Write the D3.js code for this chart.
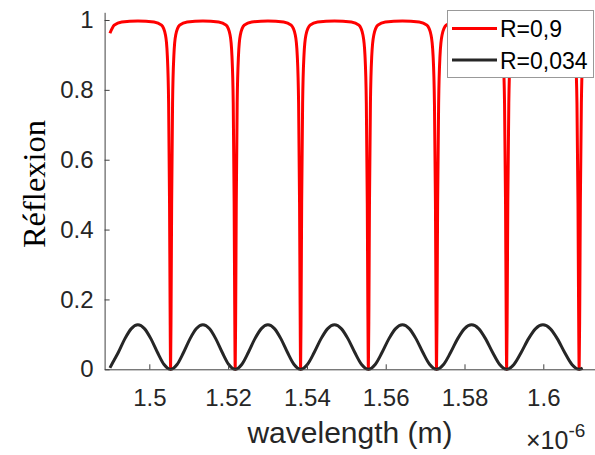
<!DOCTYPE html>
<html>
<head>
<meta charset="utf-8">
<script src="https://cdn.jsdelivr.net/npm/d3@7"></script>
<style>
html,body{margin:0;padding:0;background:#fff;}
svg{display:block;}
</style>
</head>
<body>
<svg id="chart" width="595" height="455"></svg>
<script>
// ---- data (wavelength in units of 1e-6 m) ----
const xTicks = [1.5, 1.52, 1.54, 1.56, 1.58, 1.6];
const xTickLabels = ["1.5", "1.52", "1.54", "1.56", "1.58", "1.6"];
const yTicks = [0, 0.2, 0.4, 0.6, 0.8, 1];
const yTickLabels = ["0", "0.2", "0.4", "0.6", "0.8", "1"];
const seriesNames = ["R=0,9", "R=0,034"];

const wavelengthBlack = [
  1.4900,
  1.49046, 1.49212, 1.49378, 1.49544, 1.4971, 1.49876, 1.50042, 1.50208, 1.50374, 1.5054,
  1.50704, 1.50868, 1.51032, 1.51196, 1.5136, 1.51524, 1.51688, 1.51852, 1.52016, 1.5218,
  1.52346, 1.52512, 1.52678, 1.52844, 1.5301, 1.53176, 1.53342, 1.53508, 1.53674, 1.5384,
  1.54012, 1.54184, 1.54356, 1.54528, 1.547, 1.54872, 1.55044, 1.55216, 1.55388, 1.5556,
  1.55733, 1.55906, 1.56079, 1.56252, 1.56425, 1.56598, 1.56771, 1.56944, 1.57117, 1.5729,
  1.57468, 1.57646, 1.57824, 1.58002, 1.5818, 1.58358, 1.58536, 1.58714, 1.58892, 1.5907,
  1.59254, 1.59438, 1.59622, 1.59806, 1.5999, 1.60174, 1.60358, 1.60542, 1.60726, 1.6091,
  1.6100
];
const reflectionBlack = [
  0.004,
  0.0137, 0.048, 0.0871, 0.1165, 0.1273, 0.1165, 0.0871, 0.048, 0.0137, 0,
  0.0137, 0.048, 0.0871, 0.1165, 0.1273, 0.1165, 0.0871, 0.048, 0.0137, 0,
  0.0137, 0.048, 0.0871, 0.1165, 0.1273, 0.1165, 0.0871, 0.048, 0.0137, 0,
  0.0137, 0.048, 0.0871, 0.1165, 0.1273, 0.1165, 0.0871, 0.048, 0.0137, 0,
  0.0137, 0.048, 0.0871, 0.1165, 0.1273, 0.1165, 0.0871, 0.048, 0.0137, 0,
  0.0137, 0.048, 0.0871, 0.1165, 0.1273, 0.1165, 0.0871, 0.048, 0.0137, 0,
  0.0137, 0.048, 0.0871, 0.1165, 0.1273, 0.1165, 0.0871, 0.048, 0.0137, 0,
  0.0035
];

const wavelengthRed = [
  1.4900, 1.4911, 1.4930, 1.4971,
  1.5012, 1.5031, 1.5041, 1.50457, 1.5049, 1.50513, 1.50527, 1.5054, 1.50553, 1.50567, 1.5059, 1.50623, 1.5067, 1.5077, 1.5096, 1.5136,
  1.5176, 1.5195, 1.5205, 1.52097, 1.5213, 1.52153, 1.52167, 1.5218, 1.52193, 1.52207, 1.5223, 1.52263, 1.5231, 1.5241, 1.526, 1.5301,
  1.5341, 1.536, 1.53705, 1.53755, 1.53789, 1.53813, 1.53827, 1.5384, 1.53853, 1.53867, 1.53891, 1.53925, 1.53975, 1.5408, 1.5427, 1.547,
  1.5513, 1.5532, 1.55422, 1.55474, 1.55508, 1.55532, 1.55546, 1.5556, 1.55574, 1.55588, 1.55612, 1.55646, 1.55698, 1.558, 1.5599, 1.56425,
  1.5685, 1.57045, 1.5715, 1.57202, 1.57237, 1.57262, 1.57276, 1.5729, 1.57304, 1.57318, 1.57343, 1.57378, 1.5743, 1.57535, 1.5773, 1.5818,
  1.5862, 1.5882, 1.58925, 1.5898, 1.59016, 1.59041, 1.59056, 1.5907, 1.59084, 1.59099, 1.59124, 1.5916, 1.59215, 1.5932, 1.5952, 1.5999,
  1.6045, 1.6065, 1.6076, 1.60817, 1.60854, 1.6088, 1.60895, 1.6091, 1.60925, 1.6094, 1.60966, 1.6100
];
const reflectionRed = [
  0.962, 0.985, 0.9945, 0.997,
  0.9945, 0.985, 0.957, 0.898, 0.761, 0.476, 0.185, 0, 0.185, 0.476, 0.761, 0.898, 0.957, 0.985, 0.9945, 0.997,
  0.9945, 0.985, 0.957, 0.898, 0.761, 0.476, 0.185, 0, 0.185, 0.476, 0.761, 0.898, 0.957, 0.985, 0.9945, 0.997,
  0.9945, 0.985, 0.957, 0.898, 0.761, 0.476, 0.185, 0, 0.185, 0.476, 0.761, 0.898, 0.957, 0.985, 0.9945, 0.997,
  0.9945, 0.985, 0.957, 0.898, 0.761, 0.476, 0.185, 0, 0.185, 0.476, 0.761, 0.898, 0.957, 0.985, 0.9945, 0.997,
  0.9945, 0.985, 0.957, 0.898, 0.761, 0.476, 0.185, 0, 0.185, 0.476, 0.761, 0.898, 0.957, 0.985, 0.9945, 0.997,
  0.9945, 0.985, 0.957, 0.898, 0.761, 0.476, 0.185, 0, 0.185, 0.476, 0.761, 0.898, 0.957, 0.985, 0.9945, 0.997,
  0.9945, 0.985, 0.957, 0.898, 0.761, 0.476, 0.185, 0, 0.185, 0.476, 0.761, 0.898
];

// ---- layout ----
const svg = d3.select("#chart");
const plot = {left: 104.6, right: 596.5, top: 12.3, bottom: 369.3};
const axisColor = "#404040";
const textColor = "#262626";
const sans = "'Liberation Sans', Arial, Helvetica, sans-serif";

const x = d3.scaleLinear().domain([1.48865, 1.6135]).range([plot.left, plot.right]);
const y = d3.scaleLinear().domain([0, 1.022]).range([plot.bottom, plot.top]);

const defs = svg.append("defs");
defs.append("clipPath").attr("id", "clip")
  .append("rect").attr("x", plot.left).attr("y", plot.top - 3)
  .attr("width", plot.right - plot.left).attr("height", plot.bottom - plot.top + 6);

// ---- curves ----
const line = d3.line().x(d => x(d[0])).y(d => y(d[1])).curve(d3.curveMonotoneX);
const redData = wavelengthRed.map((w, i) => [w, reflectionRed[i]]);
const blackData = wavelengthBlack.map((w, i) => [w, reflectionBlack[i]]);

const g = svg.append("g").attr("clip-path", "url(#clip)");
g.append("path").datum(redData).attr("d", line)
  .attr("fill", "none").attr("stroke", "#ff0000").attr("stroke-width", 3)
  .attr("stroke-linejoin", "round").attr("stroke-linecap", "butt");
g.append("path").datum(blackData).attr("d", line)
  .attr("fill", "none").attr("stroke", "#262626").attr("stroke-width", 3)
  .attr("stroke-linejoin", "round");

// ---- axes ----
const xAxis = d3.axisBottom(x).tickValues(xTicks)
  .tickFormat((d, i) => xTickLabels[i]).tickSizeInner(-5).tickSizeOuter(0).tickPadding(20);
const gx = svg.append("g").attr("transform", `translate(0,${plot.bottom})`).call(xAxis);
gx.select(".domain").attr("stroke", axisColor).attr("stroke-width", 1);
gx.selectAll(".tick line").attr("stroke", axisColor);
gx.selectAll(".tick text").attr("fill", textColor)
  .style("font-family", sans).style("font-size", "24px");

const yAxis = d3.axisLeft(y).tickValues(yTicks)
  .tickFormat((d, i) => yTickLabels[i]).tickSizeInner(-5).tickSizeOuter(0).tickPadding(11);
const gy = svg.append("g").attr("transform", `translate(${plot.left},0)`).call(yAxis);
gy.select(".domain").attr("stroke", axisColor).attr("stroke-width", 1);
gy.selectAll(".tick line").attr("stroke", axisColor);
gy.selectAll(".tick text").attr("fill", textColor)
  .style("font-family", sans).style("font-size", "24px");

// ---- labels ----
svg.append("text").attr("x", 350).attr("y", 443).attr("text-anchor", "middle")
  .attr("fill", textColor)
  .style("font-family", sans).style("font-size", "30px")
  .text("wavelength (m)");

const exp = svg.append("text").attr("x", 526).attr("y", 449).attr("fill", textColor)
  .style("font-family", sans).style("font-size", "25px");
exp.append("tspan").text("\u00d710");
exp.append("tspan").attr("dy", -12).style("font-size", "19px").text("-6");

svg.append("text").attr("transform", "translate(45,184) rotate(-90)")
  .attr("text-anchor", "middle").attr("fill", "#000")
  .style("font-family", "'Liberation Serif', 'Times New Roman', serif").style("font-size", "32.5px")
  .text("Réflexion");

// ---- legend ----
const lg = svg.append("g");
lg.append("rect").attr("x", 447.5).attr("y", 10.5).attr("width", 146).attr("height", 67)
  .attr("fill", "#fff").attr("stroke", "#999").attr("stroke-width", 1);
const legendColors = ["#ff0000", "#262626"];
const legendY = [28.5, 60];
seriesNames.forEach((name, i) => {
  lg.append("line").attr("x1", 452).attr("x2", 497).attr("y1", legendY[i]).attr("y2", legendY[i])
    .attr("stroke", legendColors[i]).attr("stroke-width", 3);
  lg.append("text").attr("x", 500).attr("y", legendY[i] + 8.5).attr("fill", "#000")
    .style("font-family", sans).style("font-size", "23px")
    .text(name);
});
</script>
</body>
</html>
